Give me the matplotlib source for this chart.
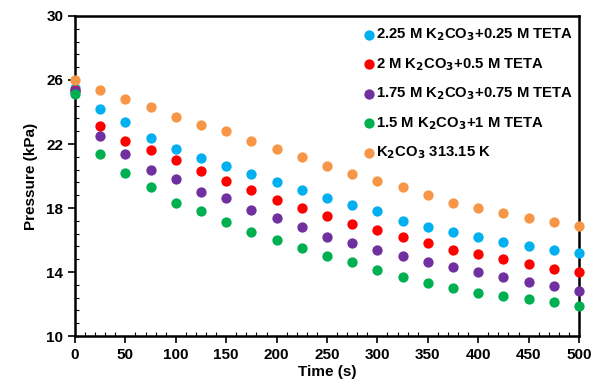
import matplotlib.pyplot as plt
from matplotlib.ticker import MultipleLocator

plt.rcParams['font.family'] = 'Liberation Sans'
plt.rcParams['font.weight'] = 'bold'
plt.rcParams['mathtext.default'] = 'bf'

time = [0, 25, 50, 75, 100, 125, 150, 175, 200, 225, 250, 275, 300, 325, 350, 375, 400, 425, 450, 475, 500]

p_225 = [25.5, 24.2, 23.4, 22.4, 21.7, 21.1, 20.6, 20.1, 19.6, 19.1, 18.6, 18.2, 17.8, 17.2, 16.8, 16.5, 16.2, 15.9, 15.6, 15.4, 15.2]
p_2 = [25.4, 23.1, 22.2, 21.6, 21.0, 20.3, 19.7, 19.1, 18.5, 18.0, 17.5, 17.0, 16.6, 16.2, 15.8, 15.4, 15.1, 14.8, 14.5, 14.2, 14.0]
p_175 = [25.3, 22.5, 21.4, 20.4, 19.8, 19.0, 18.6, 17.9, 17.4, 16.8, 16.2, 15.8, 15.4, 15.0, 14.6, 14.3, 14.0, 13.7, 13.4, 13.1, 12.8]
p_15 = [25.1, 21.4, 20.2, 19.3, 18.3, 17.8, 17.1, 16.5, 16.0, 15.5, 15.0, 14.6, 14.1, 13.7, 13.3, 13.0, 12.7, 12.5, 12.3, 12.1, 11.9]
p_k2co3 = [26.0, 25.4, 24.8, 24.3, 23.7, 23.2, 22.8, 22.2, 21.7, 21.2, 20.6, 20.1, 19.7, 19.3, 18.8, 18.3, 18.0, 17.7, 17.4, 17.1, 16.9]

series = [
    (p_225, '#00B0F0', '2.25 M K$_2$CO$_3$+0.25 M TETA'),
    (p_2, '#FF0000', '2 M K$_2$CO$_3$+0.5 M TETA'),
    (p_175, '#7030A0', '1.75 M K$_2$CO$_3$+0.75 M TETA'),
    (p_15, '#00B050', '1.5 M K$_2$CO$_3$+1 M TETA'),
    (p_k2co3, '#F79646', 'K$_2$CO$_3$ 313.15 K'),
]

fig = plt.figure(figsize=(6, 3.89), dpi=100)
ax = fig.add_axes([0.125, 0.136, 0.84, 0.823])

for vals, c, lab in series:
    ax.scatter(time, vals, s=55, color=c, label=lab, linewidths=0, zorder=3, clip_on=False)

ax.set_xlim(0, 500)
ax.set_ylim(10, 30)
ax.xaxis.set_major_locator(MultipleLocator(50))
ax.xaxis.set_minor_locator(MultipleLocator(10))
ax.yaxis.set_major_locator(MultipleLocator(4, offset=2))
ax.yaxis.set_minor_locator(MultipleLocator(0.8, offset=0.4))
ax.tick_params(which='major', direction='out', length=5, width=1.2, labelsize=11)
ax.tick_params(which='minor', direction='in', length=3, width=0.8)
for s in ax.spines.values():
    s.set_linewidth(1.8)

ax.set_xlabel('Time (s)', fontsize=11, fontweight='bold', labelpad=2)
ax.set_ylabel('Pressure (kPa)', fontsize=11, fontweight='bold', labelpad=6)

leg = ax.legend(loc='upper right', bbox_to_anchor=(1.015, 1.008), frameon=False, fontsize=10.7,
                handlelength=0.6, handletextpad=0.15, labelspacing=0.86, borderaxespad=0.3, borderpad=0.6)

plt.savefig('out.png', dpi=100)
